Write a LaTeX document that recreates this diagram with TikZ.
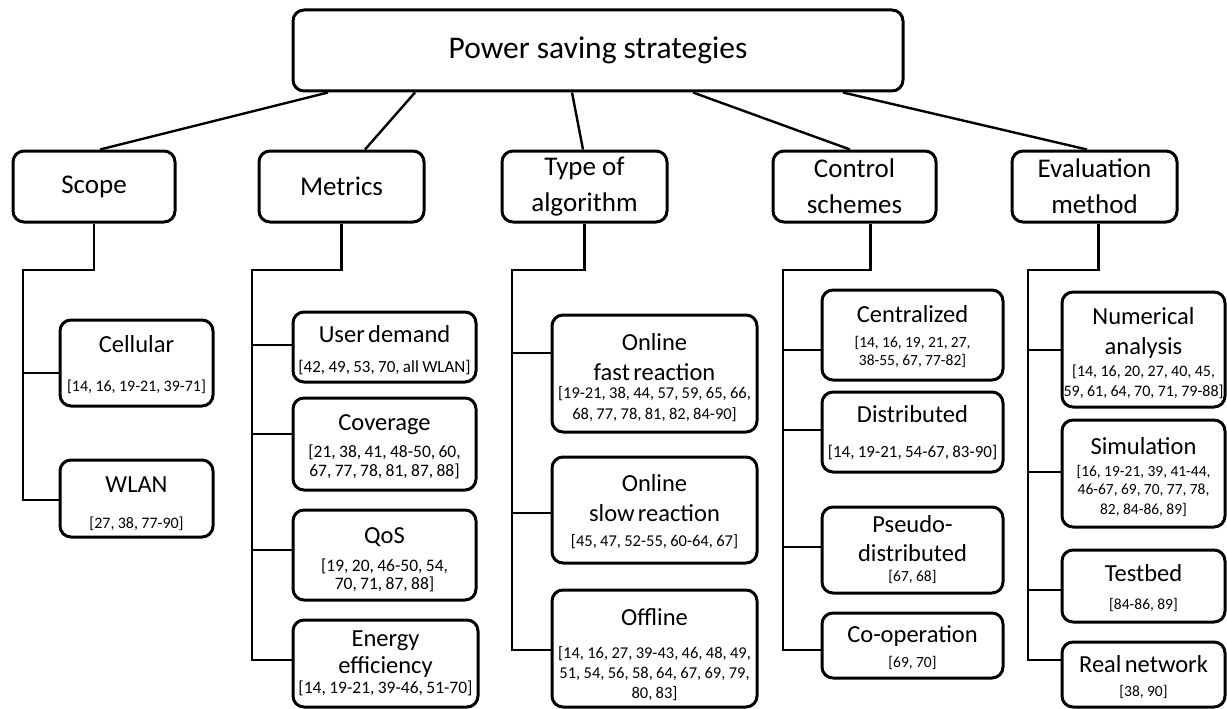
\documentclass[tikz,border=0pt]{standalone}
\usepackage{fontspec}
\setmainfont{Carlito}
\usetikzlibrary{calc}
\newcommand\boxline[3]{{\baselineskip=#1pt\relax\lineskiplimit=-\maxdimen\hbox to\hsize{\hss\fontsize{#2pt}{#2pt}\selectfont #3\hss}}}
\newcommand\topshift[1]{\vskip#1pt\relax}
\newcommand\cstack[1]{\noindent\vbox{#1}}
\begin{document}
\begin{tikzpicture}[x=1pt,y=-1pt,
  conn/.style={line width=2.4pt},
  rbox/.style={draw, line width=3pt, rounded corners=11pt, fill=white, inner sep=0pt},
  topbox/.style={rbox, minimum width=610pt, minimum height=81pt, font=\fontsize{31.5}{36}\selectfont},
  lvbox/.style={rbox, minimum height=71pt, align=center, font=\fontsize{27}{36}\selectfont},
  cbox/.style={rbox}]
\useasboundingbox (0,0) rectangle (1227,709);

% root and level 1
\node[topbox] (root) at (598,50.5) {Power saving strategies};
\node[lvbox, minimum width=162pt] (scope) at (94,186.5) {Scope};
\node[lvbox, minimum width=165pt] (metrics) at (341.5,186.5) {Metrics};
\node[lvbox, minimum width=165pt] (algo) at (584.5,186.5) {Type of\\algorithm};
\node[lvbox, minimum width=163pt] (ctrl) at (854.5,186.5) {Control\\schemes};
\node[lvbox, minimum width=165pt] (evalm) at (1094.5,186.5) {Evaluation\\method};

\draw[conn] ($(root.south)+(-270,0)$) -- ($(scope.north)+(6,0)$);
\draw[conn] ($(root.south)+(-183,0)$) -- ($(metrics.north)+(23.5,0)$);
\draw[conn] ($(root.south)+(-26,0)$) -- ($(algo.north)+(-1.5,0)$);
\draw[conn] ($(root.south)+(95,0)$) -- ($(ctrl.north)+(-4.5,0)$);
\draw[conn] ($(root.south)+(245,0)$) -- ($(evalm.north)+(-7.5,0)$);

% Scope children
\node[cbox, text width=153pt, minimum height=86pt] (cell) at (136.5,363)
  {\cstack{\topshift{4}\boxline{0}{24.5}{Cellular}\boxline{39}{16}{[14, 16, 19-21, 39-71]}}};
\node[cbox, text width=153pt, minimum height=77pt] (wlan) at (136.5,498.5)
  {\cstack{\topshift{10}\boxline{0}{24.5}{WLAN}\boxline{36}{16}{[27, 38, 77-90]}}};
\coordinate (sT) at (23,270);
\coordinate (sJ1) at (23,373);
\coordinate (sJ2) at (23,500);
\draw[conn] (scope.south) |- (sT) -- (sJ2) -- (sJ2 -| wlan.west);
\draw[conn] (sJ1) -- (sJ1 -| cell.west);

% Metrics children
\node[cbox, text width=183pt, minimum height=70pt] (udem) at (384.5,347)
  {\cstack{\topshift{6}\boxline{0}{24.5}{User demand}\boxline{30}{17}{[42, 49, 53, 70, all WLAN]}}};
\node[cbox, text width=183pt, minimum height=92pt] (cov) at (384.5,444)
  {\cstack{\topshift{6}\boxline{0}{24.5}{Coverage}\boxline{27}{17.5}{[21, 38, 41, 48-50, 60,}\boxline{19}{17.5}{67, 77, 78, 81, 87, 88]}}};
\node[cbox, text width=183pt, minimum height=90pt] (qos) at (384.5,555)
  {\cstack{\topshift{10}\boxline{0}{24.5}{QoS}\boxline{28}{17.5}{[19, 20, 46-50, 54,}\boxline{18}{17.5}{70, 71, 87, 88]}}};
\node[cbox, text width=185pt, minimum height=87pt] (ener) at (385.5,663.5)
  {\cstack{\boxline{0}{24.5}{Energy}\boxline{27}{24.5}{efficiency}\boxline{20}{17.5}{[14, 19-21, 39-46, 51-70]}}};
\coordinate (mT) at (252,270);
\coordinate (mJ1) at (252,345);
\coordinate (mJ2) at (252,434);
\coordinate (mJ3) at (252,550);
\coordinate (mJ4) at (252,660);
\draw[conn] (metrics.south) |- (mT) -- (mJ4) -- (mJ4 -| ener.west);
\draw[conn] (mJ1) -- (mJ1 -| udem.west);
\draw[conn] (mJ2) -- (mJ2 -| cov.west);
\draw[conn] (mJ3) -- (mJ3 -| qos.west);

% Type of algorithm children
\node[cbox, text width=205pt, minimum height=117pt] (onf) at (654.5,373.5)
  {\cstack{\topshift{8}\boxline{0}{24.5}{Online}\boxline{30}{24.5}{fast reaction}\boxline{18}{16.5}{[19-21, 38, 44, 57, 59, 65, 66,}\boxline{21}{16.5}{68, 77, 78, 81, 82, 84-90]}}};
\node[cbox, text width=205pt, minimum height=106pt] (ons) at (654.5,510)
  {\cstack{\topshift{4}\boxline{0}{24.5}{Online}\boxline{30}{24.5}{slow reaction}\boxline{25}{16.5}{[45, 47, 52-55, 60-64, 67]}}};
\node[cbox, text width=205pt, minimum height=117pt] (off) at (654.5,648.5)
  {\cstack{\topshift{13}\boxline{0}{24.5}{Offline}\boxline{33}{16.5}{[14, 16, 27, 39-43, 46, 48, 49,}\boxline{20}{16.5}{51, 54, 56, 58, 64, 67, 69, 79,}\boxline{20}{16.5}{80, 83]}}};
\coordinate (aT) at (512,270);
\coordinate (aJ1) at (512,353);
\coordinate (aJ2) at (512,513);
\coordinate (aJ3) at (512,650);
\draw[conn] (algo.south) |- (aT) -- (aJ3) -- (aJ3 -| off.west);
\draw[conn] (aJ1) -- (aJ1 -| onf.west);
\draw[conn] (aJ2) -- (aJ2 -| ons.west);

% Control schemes children
\node[cbox, text width=181pt, minimum height=90pt] (cen) at (912.5,335)
  {\cstack{\topshift{4}\boxline{0}{24.5}{Centralized}\boxline{25}{15.5}{[14, 16, 19, 21, 27,}\boxline{18}{15.5}{38-55, 67, 77-82]}}};
\node[cbox, text width=181pt, minimum height=80pt] (dis) at (912.5,432)
  {\cstack{\topshift{2}\boxline{0}{24.5}{Distributed}\boxline{35}{17}{[14, 19-21, 54-67, 83-90]}}};
\node[cbox, text width=181pt, minimum height=86pt] (pse) at (912.5,550)
  {\cstack{\boxline{0}{24.5}{Pseudo-}\boxline{29}{24.5}{distributed}\boxline{20}{15.5}{[67, 68]}}};
\node[cbox, text width=181pt, minimum height=65pt] (coo) at (912.5,645.5)
  {\cstack{\topshift{5}\boxline{0}{24.5}{Co-operation}\boxline{25}{15.5}{[69, 70]}}};
\coordinate (cT) at (783,270);
\coordinate (cJ1) at (783,350);
\coordinate (cJ2) at (783,430);
\coordinate (cJ3) at (783,547);
\coordinate (cJ4) at (783,650);
\draw[conn] ($(ctrl.south)+(16,0)$) |- (cT) -- (cJ4) -- (cJ4 -| coo.west);
\draw[conn] (cJ1) -- (cJ1 -| cen.west);
\draw[conn] (cJ2) -- (cJ2 -| dis.west);
\draw[conn] (cJ3) -- (cJ3 -| pse.west);

% Evaluation method children
\node[cbox, text width=163pt, minimum height=115pt] (num) at (1143.5,349.5)
  {\cstack{\topshift{8}\boxline{0}{24.5}{Numerical}\boxline{30}{24.5}{analysis}\boxline{22}{16}{[14, 16, 20, 27, 40, 45,}\boxline{20}{16}{59, 61, 64, 70, 71, 79-88]}}};
\node[cbox, text width=163pt, minimum height=107pt] (sim) at (1143.5,473.5)
  {\cstack{\topshift{8}\boxline{0}{24.5}{Simulation}\boxline{22}{15.5}{[16, 19-21, 39, 41-44,}\boxline{18}{15.5}{46-67, 69, 70, 77, 78,}\boxline{20}{15.5}{82, 84-86, 89]}}};
\node[cbox, text width=163pt, minimum height=72pt] (tes) at (1143.5,586)
  {\cstack{\topshift{4}\boxline{0}{24.5}{Testbed}\boxline{28}{15.5}{[84-86, 89]}}};
\node[cbox, text width=163pt, minimum height=65pt] (rea) at (1143.5,674.5)
  {\cstack{\topshift{6}\boxline{0}{24.5}{Real network}\boxline{24}{15.5}{[38, 90]}}};
\coordinate (eT) at (1028,270);
\coordinate (eJ1) at (1028,350);
\coordinate (eJ2) at (1028,472);
\coordinate (eJ3) at (1028,590);
\coordinate (eJ4) at (1028,660);
\draw[conn] ($(evalm.south)+(4,0)$) |- (eT) -- (eJ4) -- (eJ4 -| rea.west);
\draw[conn] (eJ1) -- (eJ1 -| num.west);
\draw[conn] (eJ2) -- (eJ2 -| sim.west);
\draw[conn] (eJ3) -- (eJ3 -| tes.west);
\end{tikzpicture}
\end{document}
